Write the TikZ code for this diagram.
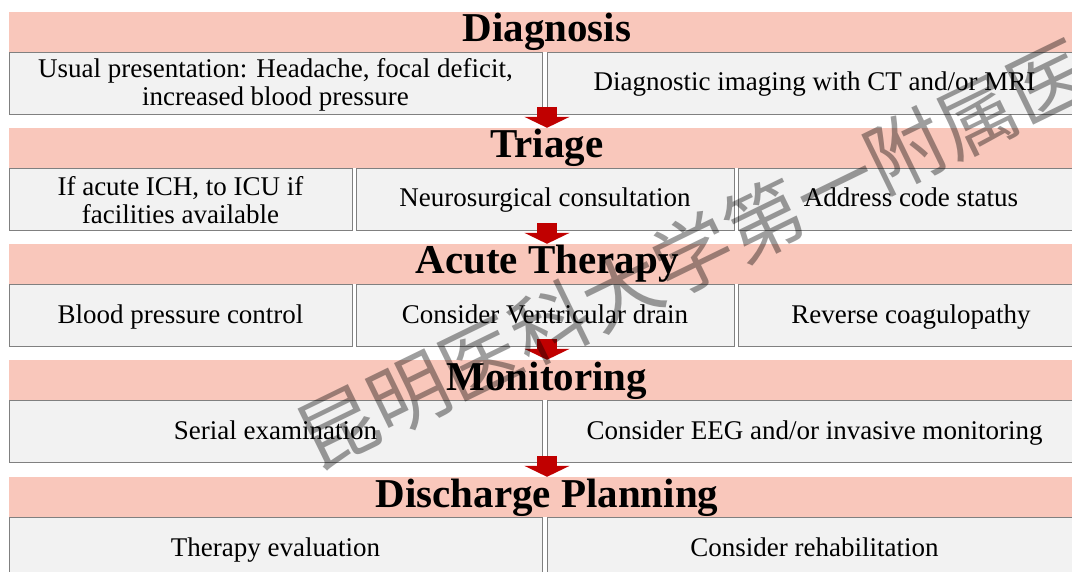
\documentclass[tikz,border=0pt]{standalone}
\usepackage{fontspec}
\setmainfont{Liberation Serif}
\newfontfamily\wmfont{Noto Sans CJK SC}
\usetikzlibrary{arrows.meta}
\definecolor{bandpink}{RGB}{249,199,187}
\definecolor{cellgray}{RGB}{242,242,242}
\definecolor{edgegray}{RGB}{128,128,128}
\definecolor{arrowred}{RGB}{192,0,0}
\newcommand{\firststrut}{\rule{0pt}{22pt}}
\tikzset{
  band/.style={fill=bandpink, minimum width=1076pt, minimum height=40pt, inner sep=0pt,
    text height=27pt, text depth=7pt, font=\fontsize{41}{42}\selectfont\bfseries},
  cell/.style={fill=cellgray, draw=edgegray, line width=0.9pt, minimum height=62pt,
    inner sep=0pt, align=center, font=\fontsize{27}{28}\selectfont},
  cellone/.style={cell, text height=20pt, text depth=4pt},
  flow/.style={draw=arrowred, line width=20pt, -{Triangle[width=45pt,length=11pt,fill=arrowred]}},
  watermark/.style={rotate=26, text=black, text opacity=0.38, inner sep=0pt,
    font=\wmfont\fontsize{79}{79}\selectfont},
}
\begin{document}
\begin{tikzpicture}[x=1pt,y=-1pt]
\useasboundingbox (0,0) rectangle (1072,572);
\clip (0,0) rectangle (1072,572);
% Row 1: Diagnosis
\node[band] (h1) at (547,32) {Diagnosis};
\node[cell, minimum width=533pt] (c11) at (275.5,83) {\firststrut Usual presentation: Headache, focal deficit,\\increased blood pressure};
\node[cellone, minimum width=535pt] (c12) at (814.5,83) {Diagnostic imaging with CT and/or MRI};
% Row 2: Triage
\node[band] (h2) at (547,148) {Triage};
\node[cell, minimum width=343pt] (c21) at (180.5,199) {\firststrut If acute ICH, to ICU if\\facilities available};
\node[cellone, minimum width=378pt] (c22) at (545,199) {Neurosurgical consultation};
\node[cellone, minimum width=346pt] (c23) at (911,199) {Address code status};
% Row 3: Acute Therapy
\node[band] (h3) at (547,264) {Acute Therapy};
\node[cellone, minimum width=343pt] (c31) at (180.5,315.5) {Blood pressure control};
\node[cellone, minimum width=378pt] (c32) at (545,315.5) {Consider Ventricular drain};
\node[cellone, minimum width=346pt] (c33) at (911,315.5) {Reverse coagulopathy};
% Row 4: Monitoring
\node[band] (h4) at (547,380) {Monitoring};
\node[cellone, minimum width=533pt] (c41) at (275.5,431.5) {Serial examination};
\node[cellone, minimum width=535pt] (c42) at (814.5,431.5) {Consider EEG and/or invasive monitoring};
% Row 5: Discharge Planning
\node[band] (h5) at (547,497) {Discharge Planning};
\node[cellone, minimum width=533pt] (c51) at (275.5,548) {Therapy evaluation};
\node[cellone, minimum width=535pt] (c52) at (814.5,548) {Consider rehabilitation};
% Arrows
\coordinate (a2) at ([yshift=21pt]h2.north);
\coordinate (a3) at ([yshift=21pt]h3.north);
\coordinate (a4) at ([yshift=21pt]h4.north);
\coordinate (a5) at ([yshift=21pt]h5.north);
\draw[flow] (a2) -- (h2.north);
\draw[flow] (a3) -- (h3.north);
\draw[flow] (a4) -- (h4.north);
\draw[flow] (a5) -- (h5.north);
% Watermark
\node[watermark] (wm) at (728,237) {昆明医科大学第一附属医院};
\end{tikzpicture}
\end{document}
